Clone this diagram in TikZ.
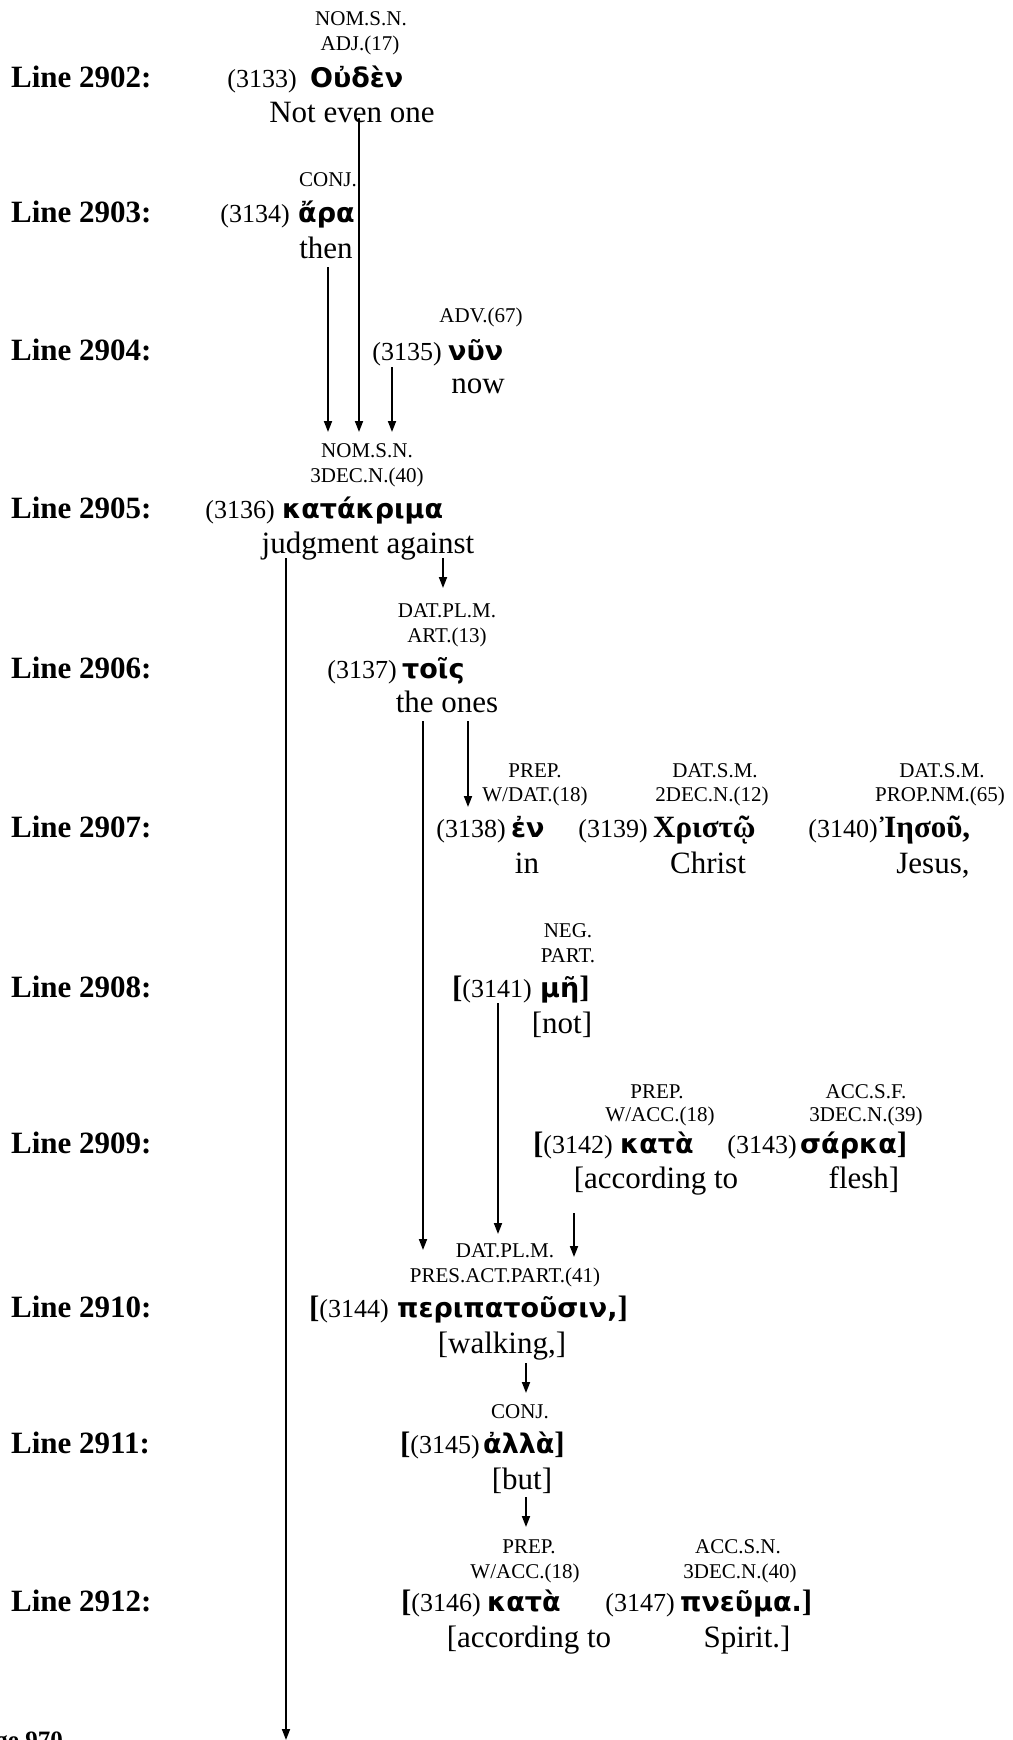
\documentclass[tikz,border=0pt]{standalone}
\usepackage{fontspec}
\setmainfont{Liberation Serif}
\newfontfamily\grk{DejaVu Sans}
\usetikzlibrary{arrows.meta}
\newcommand{\bbr}[1]{{\rmfamily\bfseries\fontsize{31}{36}\selectfont #1}}
\begin{document}
\begin{tikzpicture}[x=1pt,y=-1pt,
  lbl/.style={anchor=base west,inner sep=0pt,font=\fontsize{31}{36}\selectfont\bfseries},
  posl/.style={anchor=base,inner sep=0pt,font=\fontsize{21}{25}\selectfont},
  num/.style={anchor=base east,inner sep=0pt,font=\fontsize{26}{30}\selectfont},
  grw/.style={anchor=base west,inner sep=0pt,font=\grk\bfseries\fontsize{27}{32}\selectfont},
  grs/.style={anchor=base west,inner sep=0pt,font=\rmfamily\bfseries\fontsize{31}{36}\selectfont},
  gls/.style={anchor=base,inner sep=0pt,font=\fontsize{31}{36}\selectfont},
  arr/.style={line width=1.8pt,-{Triangle[length=11pt,width=8pt]}}]
\fill[white] (0,0) rectangle (1012,1740);
\useasboundingbox (0,0) rectangle (1012,1740);

% line labels
\node[lbl] (L2902) at (11,87) {Line 2902:};
\node[lbl] (L2903) at (11,222) {Line 2903:};
\node[lbl] (L2904) at (11,360) {Line 2904:};
\node[lbl] (L2905) at (11,518) {Line 2905:};
\node[lbl] (L2906) at (11,678) {Line 2906:};
\node[lbl] (L2907) at (11,837) {Line 2907:};
\node[lbl] (L2908) at (11,997) {Line 2908:};
\node[lbl] (L2909) at (11,1153) {Line 2909:};
\node[lbl] (L2910) at (11,1317) {Line 2910:};
\node[lbl] (L2911) at (11,1453) {Line 2911:};
\node[lbl] (L2912) at (11,1611) {Line 2912:};
\node[anchor=base east,inner sep=0pt,font=\fontsize{25}{30}\selectfont\bfseries] (pg) at (63,1748) {Page 970};

% 3133
\node[posl] (p3133a) at (361,25) {NOM.S.N.};
\node[posl] (p3133b) at (360,50) {ADJ.(17)};
\node[num] (r3133) at (297,87) {(3133)};
\node[grw] (w3133) at (310,87) {Οὐδὲν};
\node[gls] (g3133) at (352,122) {Not even one};
% 3134
\node[posl] (p3134a) at (328,186) {CONJ.};
\node[num] (r3134) at (290,222) {(3134)};
\node[grw] (w3134) at (298,222) {ἄρα};
\node[gls] (g3134) at (326,258) {then};
% 3135
\node[posl] (p3135a) at (481,322) {ADV.(67)};
\node[num] (r3135) at (442,360) {(3135)};
\node[grw] (w3135) at (448,360) {νῦν};
\node[gls] (g3135) at (478,393) {now};
% 3136
\node[posl] (p3136a) at (367,457) {NOM.S.N.};
\node[posl] (p3136b) at (367,482) {3DEC.N.(40)};
\node[num] (r3136) at (275,518) {(3136)};
\node[grw] (w3136) at (282,518) {κατάκριμα};
\node[gls] (g3136) at (368,553) {judgment against};
% 3137
\node[posl] (p3137a) at (447,617) {DAT.PL.M.};
\node[posl] (p3137b) at (447,642) {ART.(13)};
\node[num] (r3137) at (397,678) {(3137)};
\node[grw] (w3137) at (402,678) {τοῖς};
\node[gls] (g3137) at (447,712) {the ones};
% 3138
\node[posl] (p3138a) at (535,777) {PREP.};
\node[posl] (p3138b) at (535,801) {W/DAT.(18)};
\node[num] (r3138) at (506,837) {(3138)};
\node[grw] (w3138) at (511,837) {ἐν};
\node[gls] (g3138) at (527,873) {in};
% 3139
\node[posl] (p3139a) at (715,777) {DAT.S.M.};
\node[posl] (p3139b) at (712,801) {2DEC.N.(12)};
\node[num] (r3139) at (648,837) {(3139)};
\node[grs] (w3139) at (653,837) {Χριστῷ};
\node[gls] (g3139) at (708,873) {Christ};
% 3140
\node[posl] (p3140a) at (942,777) {DAT.S.M.};
\node[posl] (p3140b) at (940,801) {PROP.NM.(65)};
\node[num] (r3140) at (878,837) {(3140)};
\node[grs] (w3140) at (880,837) {Ἰησοῦ,};
\node[gls] (g3140) at (933,873) {Jesus,};
% 3141
\node[posl] (p3141a) at (568,937) {NEG.};
\node[posl] (p3141b) at (568,962) {PART.};
\node[num] (r3141) at (532,997) {\bbr{[}(3141)};
\node[grw] (w3141) at (540,997) {μῆ\bbr{]}};
\node[gls] (g3141) at (562,1033) {[not]};
% 3142
\node[posl] (p3142a) at (657,1098) {PREP.};
\node[posl] (p3142b) at (660,1121) {W/ACC.(18)};
\node[num] (r3142) at (613,1153) {\bbr{[}(3142)};
\node[grw] (w3142) at (620,1153) {κατὰ};
\node[gls] (g3142) at (656,1188) {[according to};
% 3143
\node[posl] (p3143a) at (866,1098) {ACC.S.F.};
\node[posl] (p3143b) at (866,1121) {3DEC.N.(39)};
\node[num] (r3143) at (797,1153) {(3143)};
\node[grw] (w3143) at (800,1153) {σάρκα\bbr{]}};
\node[gls] (g3143) at (864,1188) {flesh]};
% 3144
\node[posl] (p3144a) at (505,1257) {DAT.PL.M.};
\node[posl] (p3144b) at (505,1282) {PRES.ACT.PART.(41)};
\node[num] (r3144) at (389,1317) {\bbr{[}(3144)};
\node[grw] (w3144) at (397,1317) {περιπατοῦσιν,\bbr{]}};
\node[gls] (g3144) at (502,1353) {[walking,]};
% 3145
\node[posl] (p3145a) at (520,1418) {CONJ.};
\node[num] (r3145) at (480,1453) {\bbr{[}(3145)};
\node[grw] (w3145) at (483,1453) {ἀλλὰ\bbr{]}};
\node[gls] (g3145) at (522,1489) {[but]};
% 3146
\node[posl] (p3146a) at (529,1553) {PREP.};
\node[posl] (p3146b) at (525,1578) {W/ACC.(18)};
\node[num] (r3146) at (481,1611) {\bbr{[}(3146)};
\node[grw] (w3146) at (487,1611) {κατὰ};
\node[gls] (g3146) at (529,1647) {[according to};
% 3147
\node[posl] (p3147a) at (738,1553) {ACC.S.N.};
\node[posl] (p3147b) at (740,1578) {3DEC.N.(40)};
\node[num] (r3147) at (675,1611) {(3147)};
\node[grw] (w3147) at (680,1611) {πνεῦμα.\bbr{]}};
\node[gls] (g3147) at (747,1647) {Spirit.]};

% connector end points
\coordinate (a1s) at (328,267);  \coordinate (a1e) at (328,432);
\coordinate (a2s) at (359,118);  \coordinate (a2e) at (359,432);
\coordinate (a3s) at (392,367);  \coordinate (a3e) at (392,432);
\coordinate (a4s) at (443,558);  \coordinate (a4e) at (443,588);
\coordinate (a5s) at (286,558);  \coordinate (a5e) at (286,1740);
\coordinate (a6s) at (423,721);  \coordinate (a6e) at (423,1250);
\coordinate (a7s) at (468,721);  \coordinate (a7e) at (468,807);
\coordinate (a8s) at (498,1003); \coordinate (a8e) at (498,1234);
\coordinate (a9s) at (574,1213); \coordinate (a9e) at (574,1257);
\coordinate (a10s) at (526,1363); \coordinate (a10e) at (526,1393);
\coordinate (a11s) at (526,1497); \coordinate (a11e) at (526,1527);

\draw[arr] (a1s) -- (a1e);
\draw[arr] (a2s) -- (a2e);
\draw[arr] (a3s) -- (a3e);
\draw[arr] (a4s) -- (a4e);
\draw[arr] (a5s) -- (a5e);
\draw[arr] (a6s) -- (a6e);
\draw[arr] (a7s) -- (a7e);
\draw[arr] (a8s) -- (a8e);
\draw[arr] (a9s) -- (a9e);
\draw[arr] (a10s) -- (a10e);
\draw[arr] (a11s) -- (a11e);
\end{tikzpicture}
\end{document}
